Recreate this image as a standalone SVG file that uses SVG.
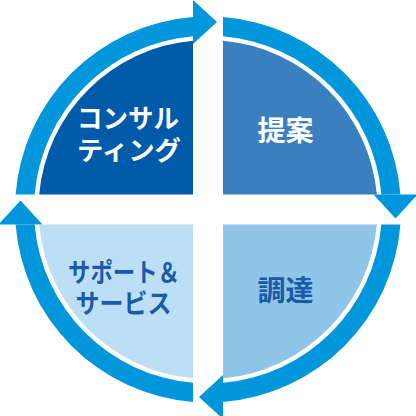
<svg xmlns="http://www.w3.org/2000/svg" width="416" height="416" viewBox="0 0 416 416">
<style>
.ring{fill:#0096dc}
.lbl{font-family:"Noto Sans CJK JP","Noto Sans",sans-serif;font-weight:bold;text-anchor:middle}
.w{fill:#ffffff}
.b{fill:#1a5aa6}
</style>
<defs>
<g id="seg">
<path d="M15.6,194.5 A193,193 0 0 1 193,17.1 L193,36.15 A174,174 0 0 0 34.65,194.5 Z"/>
<polygon points="193,0 217,22 193,44"/>
</g>
</defs>
<rect width="416" height="416" fill="#ffffff"/>
<g id="connectors" class="ring">
<use href="#seg"/>
<use href="#seg" transform="rotate(90 208 209.5)"/>
<use href="#seg" transform="rotate(180 208 209.5)"/>
<use href="#seg" transform="rotate(270 208 209.5)"/>
</g>
<g id="consulting">
<path d="M193,194.5 L193,40.66 A169.5,169.5 0 0 0 39.16,194.5 Z" fill="#005aaa"/>
<text class="lbl w" font-size="26"><tspan x="128" y="128" textLength="102" lengthAdjust="spacingAndGlyphs">コンサル</tspan><tspan x="129" y="160" textLength="104" lengthAdjust="spacingAndGlyphs">ティング</tspan></text>
</g>
<g id="proposal">
<path d="M223,194.5 L223,40.66 A169.5,169.5 0 0 1 376.84,194.5 Z" fill="#3a7fc0"/>
<text class="lbl w" x="285.5" y="141" font-size="28">提案</text>
</g>
<g id="procurement">
<path d="M223,224.5 L376.84,224.5 A169.5,169.5 0 0 1 223,378.34 Z" fill="#8fc5e9"/>
<text class="lbl b" x="285.5" y="301" font-size="28">調達</text>
</g>
<g id="support">
<path d="M193,224.5 L193,378.34 A169.5,169.5 0 0 1 39.16,224.5 Z" fill="#bddff5"/>
<text class="lbl b" font-size="26"><tspan x="124" y="282" textLength="112" lengthAdjust="spacingAndGlyphs">サポート＆</tspan><tspan x="123.5" y="313" textLength="96" lengthAdjust="spacingAndGlyphs">サービス</tspan></text>
</g>
</svg>
